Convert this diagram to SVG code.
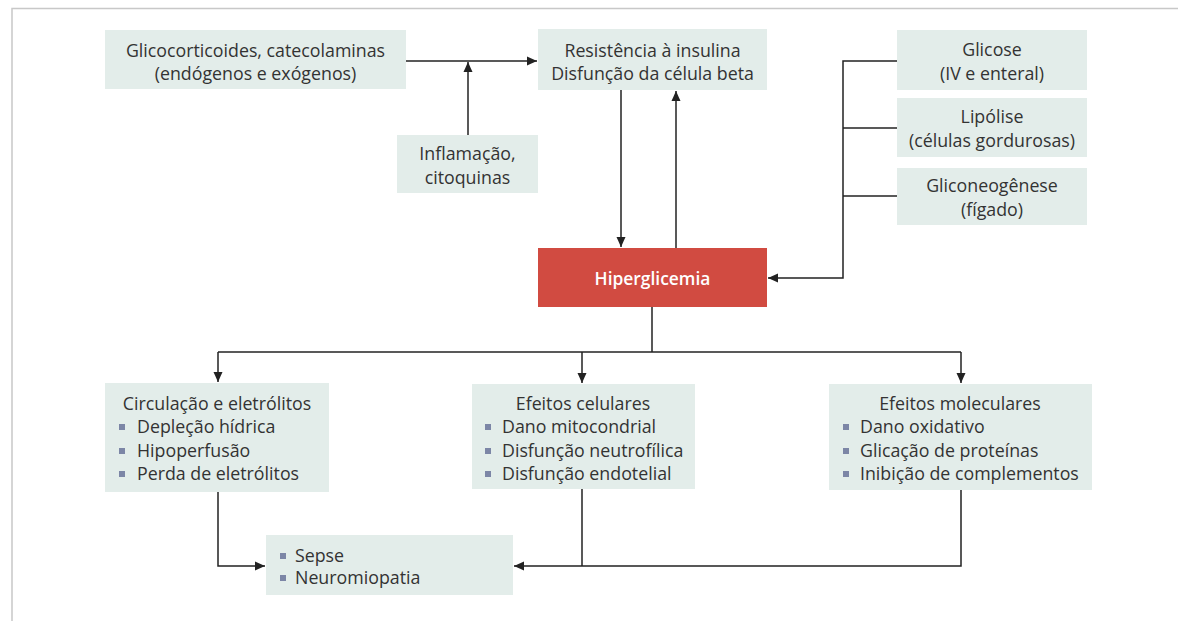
<svg xmlns="http://www.w3.org/2000/svg" width="1178" height="621" viewBox="0 0 1178 621">
  <defs>
    <marker id="arrow" viewBox="0 0 10 10" refX="10" refY="5" markerWidth="10" markerHeight="10" markerUnits="userSpaceOnUse" orient="auto">
      <path d="M0,0.5 L10,5 L0,9.5 Z" fill="#222"/>
    </marker>
    <style>
      .box { fill: #e3edea; }
      .hot { fill: #d14b41; }
      .t { font-family: "Open Sans", "Liberation Sans", Arial, sans-serif; font-size: 17.8px; fill: #333; }
      .c { text-anchor: middle; }
      .w { fill: #ffffff; font-weight: 600; font-size: 17.4px; }
      .blt { fill: #7c86a6; }
      .ln { fill: none; stroke: #222; stroke-width: 1.5; }
      .frame { fill: none; stroke: #c8c8c8; stroke-width: 1.5; }
    </style>
  </defs>

  <rect width="1178" height="621" fill="#ffffff"/>
  <path class="frame" d="M12,621 V8.5 H1178"/>

  <!-- connectors -->
  <g id="connectors">
    <path class="ln" d="M406,61 H537" marker-end="url(#arrow)"/>
    <path class="ln" d="M468,135 V62" marker-end="url(#arrow)"/>
    <path class="ln" d="M621,90 V247" marker-end="url(#arrow)"/>
    <path class="ln" d="M676,248 V91" marker-end="url(#arrow)"/>
    <path class="ln" d="M897,61 H843 V278 H768" marker-end="url(#arrow)"/>
    <path class="ln" d="M897,128 H843"/>
    <path class="ln" d="M897,196 H843"/>
    <path class="ln" d="M652,307 V352"/>
    <path class="ln" d="M218,352 H961"/>
    <path class="ln" d="M218,352 V382" marker-end="url(#arrow)"/>
    <path class="ln" d="M582,352 V383" marker-end="url(#arrow)"/>
    <path class="ln" d="M961,352 V383" marker-end="url(#arrow)"/>
    <path class="ln" d="M218,492 V566 H265" marker-end="url(#arrow)"/>
    <path class="ln" d="M582,489 V566"/>
    <path class="ln" d="M961,490 V566 H514" marker-end="url(#arrow)"/>
  </g>

  <g id="glicocorticoides">
    <rect class="box" x="105" y="30" width="301" height="59"/>
    <text class="t c" x="255.5" y="57">Glicocorticoides, catecolaminas</text>
    <text class="t c" x="255.5" y="80">(endógenos e exógenos)</text>
  </g>

  <g id="resistencia">
    <rect class="box" x="538" y="29" width="229" height="61"/>
    <text class="t c" x="652.5" y="57">Resistência à insulina</text>
    <text class="t c" x="652.5" y="80">Disfunção da célula beta</text>
  </g>

  <g id="inflamacao">
    <rect class="box" x="397" y="135" width="141" height="58"/>
    <text class="t c" x="467.5" y="160">Inflamação,</text>
    <text class="t c" x="467.5" y="184">citoquinas</text>
  </g>

  <g id="glicose">
    <rect class="box" x="897" y="30" width="190" height="60"/>
    <text class="t c" x="992" y="56">Glicose</text>
    <text class="t c" x="992" y="80">(IV e enteral)</text>
  </g>

  <g id="lipolise">
    <rect class="box" x="897" y="98" width="190" height="59"/>
    <text class="t c" x="992" y="123">Lipólise</text>
    <text class="t c" x="992" y="147">(células gordurosas)</text>
  </g>

  <g id="gliconeogenese">
    <rect class="box" x="897" y="168" width="190" height="57"/>
    <text class="t c" x="992" y="192">Gliconeogênese</text>
    <text class="t c" x="992" y="216">(fígado)</text>
  </g>

  <g id="hiperglicemia">
    <rect class="hot" x="538" y="248" width="229" height="59"/>
    <text class="t c w" x="652.5" y="285">Hiperglicemia</text>
  </g>

  <g id="circulacao">
    <rect class="box" x="105" y="383" width="224" height="109"/>
    <text class="t c" x="217" y="410">Circulação e eletrólitos</text>
    <rect class="blt" x="119" y="424" width="6" height="6"/>
    <text class="t" x="137" y="433">Depleção hídrica</text>
    <rect class="blt" x="119" y="448" width="6" height="6"/>
    <text class="t" x="137" y="457">Hipoperfusão</text>
    <rect class="blt" x="119" y="471" width="6" height="6"/>
    <text class="t" x="137" y="480">Perda de eletrólitos</text>
  </g>

  <g id="celulares">
    <rect class="box" x="472" y="384" width="223" height="105"/>
    <text class="t c" x="583" y="410">Efeitos celulares</text>
    <rect class="blt" x="485" y="424" width="6" height="6"/>
    <text class="t" x="502" y="433">Dano mitocondrial</text>
    <rect class="blt" x="485" y="448" width="6" height="6"/>
    <text class="t" x="502" y="457">Disfunção neutrofílica</text>
    <rect class="blt" x="485" y="471" width="6" height="6"/>
    <text class="t" x="502" y="480">Disfunção endotelial</text>
  </g>

  <g id="moleculares">
    <rect class="box" x="829" y="384" width="263" height="106"/>
    <text class="t c" x="960" y="410">Efeitos moleculares</text>
    <rect class="blt" x="843" y="424" width="6" height="6"/>
    <text class="t" x="860" y="433">Dano oxidativo</text>
    <rect class="blt" x="843" y="448" width="6" height="6"/>
    <text class="t" x="860" y="457">Glicação de proteínas</text>
    <rect class="blt" x="843" y="471" width="6" height="6"/>
    <text class="t" x="860" y="480">Inibição de complementos</text>
  </g>

  <g id="sepse">
    <rect class="box" x="266" y="535" width="247" height="60"/>
    <rect class="blt" x="280" y="553" width="6" height="6"/>
    <text class="t" x="295" y="562">Sepse</text>
    <rect class="blt" x="280" y="575" width="6" height="6"/>
    <text class="t" x="295" y="584">Neuromiopatia</text>
  </g>
</svg>
